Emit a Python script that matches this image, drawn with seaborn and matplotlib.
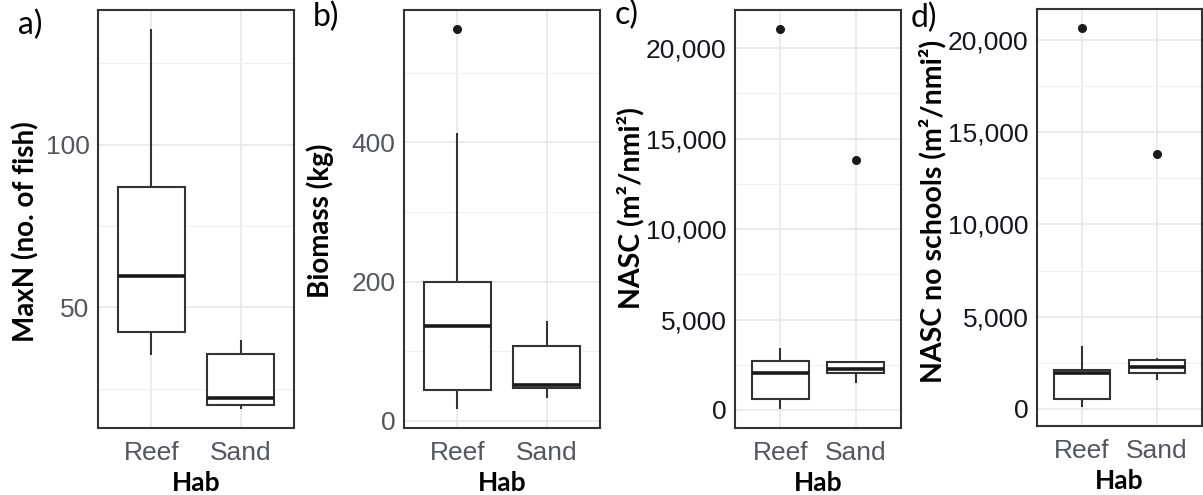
import matplotlib
matplotlib.use("Agg")
import matplotlib.pyplot as plt
import seaborn as sns
import pandas as pd
from matplotlib.ticker import MultipleLocator, FuncFormatter

# ---- data ----
habitats = ["Reef", "Sand"]
maxn_reef = [35.5, 42.6, 59.6, 87.0, 135.5]
maxn_sand = [18.8, 20.0, 22.2, 35.8, 40.0]
biomass_reef = [17, 30, 44, 90, 136.5, 170, 200, 414, 563]
biomass_sand = [33, 46.6, 51, 107.6, 143.7]
nasc_reef = [55, 300, 611, 1500, 2055, 2500, 2722, 3444, 21055]
nasc_sand = [1500, 1800, 2055, 2200, 2278, 2500, 2667, 2722, 13833]
nasc_ns_reef = [100, 300, 543, 1500, 1956, 2050, 2120, 3424, 20650]
nasc_ns_sand = [1575, 1800, 1960, 2100, 2280, 2500, 2660, 2770, 13800]

panel_letters = ["a)", "b)", "c)", "d)"]
ylabels = ["MaxN (no. of fish)", "Biomass (kg)", "NASC (m²/nmi²)", "NASC no schools (m²/nmi²)"]
xlabel = "Hab"


def long_df(reef, sand):
    return pd.DataFrame({
        "Hab": [habitats[0]] * len(reef) + [habitats[1]] * len(sand),
        "val": list(reef) + list(sand),
    })


frames = [long_df(maxn_reef, maxn_sand), long_df(biomass_reef, biomass_sand),
          long_df(nasc_reef, nasc_sand), long_df(nasc_ns_reef, nasc_ns_sand)]

sns.set_theme(style="white")
plt.rcParams["font.family"] = ["Liberation Sans", "DejaVu Sans"]

W, H = 1203, 495
fig = plt.figure(figsize=(W / 100, H / 100), dpi=100)
fig.patch.set_facecolor("white")

# axes boxes in pixels: left, top, right, bottom
rects = [(98, 10, 294, 428), (404, 10, 600, 428), (735, 10, 901, 428), (1037, 9, 1202, 426)]
majors = [50, 200, 5000, 5000]
minors = [25, 100, 2500, 2500]
tick_colors = ["#555560", "#555560", "#15151f", "#15151f"]
letter_pos = [(18, 10), (313, 2), (615, 0), (911, 3)]
ylabel_coords = [(-0.30, 0.47), (-0.355, 0.495), (-0.545, 0.525), (-0.55, 0.515)]
ylabel_sizes = [20, 20, 20.5, 20.5]

comma = FuncFormatter(lambda v, p: f"{v:,.0f}")

for i, df in enumerate(frames):
    l, t, r, b = rects[i]
    ax = fig.add_axes([l / W, 1 - b / H, (r - l) / W, (b - t) / H])
    ax.set_axisbelow(True)
    sns.boxplot(data=df, x="Hab", y="val", order=habitats, ax=ax, color="white",
                linecolor="#333333", linewidth=1.5, width=0.75, showcaps=False,
                fliersize=5.5,
                flierprops=dict(marker="o", markerfacecolor="#1a1a1a", markeredgecolor="#1a1a1a"),
                medianprops=dict(linewidth=2.6, color="#1a1a1a"))
    ax.set_xlim(-0.6, 1.6)
    lo, hi = df["val"].min(), df["val"].max()
    pad = 0.05 * (hi - lo)
    ax.set_ylim(lo - pad, hi + pad)
    ax.yaxis.set_major_locator(MultipleLocator(majors[i]))
    ax.yaxis.set_minor_locator(MultipleLocator(minors[i]))
    if i >= 2:
        ax.yaxis.set_major_formatter(comma)
    ax.grid(True, which="major", color="#e8e8e8", linewidth=1.2)
    ax.grid(True, which="minor", axis="y", color="#f0f0f0", linewidth=0.8)
    for s in ax.spines.values():
        s.set_visible(True)
        s.set_color("#333333")
        s.set_linewidth(1.5)
    ax.tick_params(axis="both", which="major", length=3, width=1, color="#333333",
                   labelsize=19, pad=3)
    ax.tick_params(axis="x", which="major", pad=6)
    ax.tick_params(axis="y", which="minor", length=0)
    for lab in ax.get_yticklabels():
        lab.set_color(tick_colors[i])
    for lab in ax.get_xticklabels():
        lab.set_color("#555560")
    ax.set_xlabel(xlabel, fontfamily="Lato", fontweight="bold", fontsize=19,
                  color="black", labelpad=5)
    ax.set_ylabel(ylabels[i], fontfamily="Lato", fontweight="bold", fontsize=ylabel_sizes[i],
                  color="black")
    ax.yaxis.set_label_coords(*ylabel_coords[i])
    lx, ly = letter_pos[i]
    fig.text(lx / W, 1 - ly / H, panel_letters[i], fontfamily="Lato", fontsize=23,
             color="black", ha="left", va="top")

fig.savefig("out.png", dpi=100, facecolor="white")
